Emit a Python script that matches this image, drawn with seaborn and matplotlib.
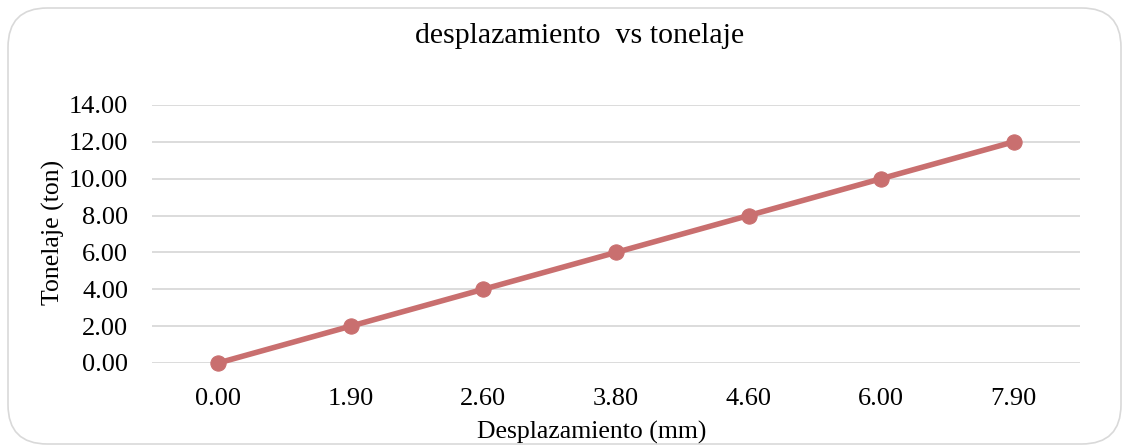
import matplotlib
matplotlib.use("Agg")
import matplotlib.pyplot as plt
from matplotlib.patches import FancyBboxPatch
import pandas as pd
import seaborn as sns

# data
desplazamiento = ["0.00", "1.90", "2.60", "3.80", "4.60", "6.00", "7.90"]
tonelaje = [0, 2, 4, 6, 8, 10, 12]
y_ticks = [0, 2, 4, 6, 8, 10, 12, 14]

df = pd.DataFrame({"x": desplazamiento, "y": tonelaje})

sns.set_style("white")
plt.rcParams["font.family"] = ["Liberation Serif", "DejaVu Serif"]
plt.rcParams["text.color"] = "#000000"

fig = plt.figure(figsize=(11.23, 4.45), dpi=100)
ax = fig.add_axes([0.1353, 0.1843, 0.8264, 0.5798])

line_color = "#C96F6F"
sns.lineplot(data=df, x="x", y="y", ax=ax, color=line_color, linewidth=4,
             marker="o", markersize=11, markeredgecolor=line_color, sort=False)
for ln in ax.lines:
    ln.set_clip_on(False)

ax.set_xlim(-0.5, len(desplazamiento) - 0.5)
ax.set_ylim(0, 14)
ax.set_yticks(y_ticks)
ax.set_yticklabels([f"{v:.2f}" for v in y_ticks])
ax.grid(axis="y", color="#D9D9D9", linewidth=1.3)
ax.set_axisbelow(True)
for s in ax.spines.values():
    s.set_visible(False)
ax.tick_params(axis="both", length=0, labelsize=19, colors="#000000")
ax.tick_params(axis="x", pad=18)
ax.tick_params(axis="y", pad=17)
ax.set_xlabel("")
ax.set_ylabel("")

# axis titles and chart title placed like the reference
fig.text(592 / 1123, 1 - 432 / 445, "Desplazamiento (mm)", ha="center", va="center", fontsize=18.5)
fig.text(53 / 1123, 1 - 232 / 445, "Tonelaje (ton)", ha="center", va="center",
         rotation=90, fontsize=18.5)
fig.text(580 / 1123, 1 - 36 / 445, "desplazamiento  vs tonelaje", ha="center", va="center",
         fontsize=21.5)

# rounded chart border
border = FancyBboxPatch((8 / 1123, 1 / 445), 1113 / 1123, 436 / 445,
                        boxstyle="round,pad=0,rounding_size=0.035",
                        transform=fig.transFigure, facecolor="none",
                        edgecolor="#D9D9D9", linewidth=1.2, mutation_aspect=1123 / 445)
fig.patches.append(border)

fig.savefig("out.png", dpi=100)
